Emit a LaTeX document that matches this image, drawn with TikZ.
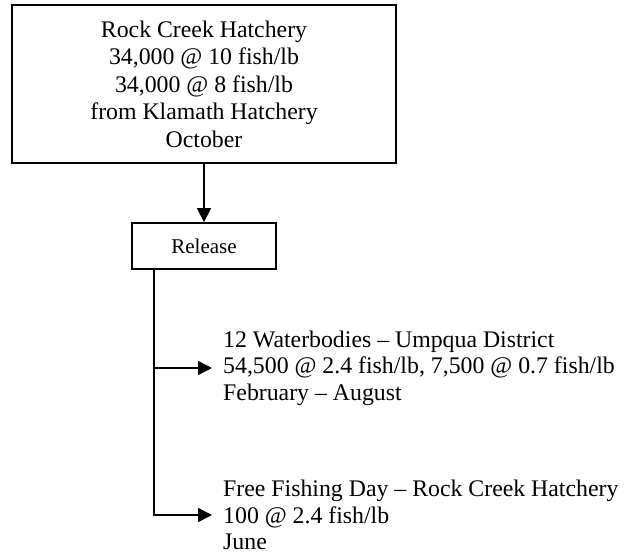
\documentclass[tikz,border=0pt]{standalone}
\usepackage{fontspec}
\setmainfont{Liberation Serif}
\usetikzlibrary{arrows.meta,calc}
\begin{document}
\begin{tikzpicture}[x=1pt,y=-1pt,
  boxA/.style={draw,line width=2pt,minimum width=384pt,minimum height=158pt,inner sep=0pt,align=center,
    font=\fontsize{23.8}{27.5}\selectfont},
  boxB/.style={draw,line width=1.8pt,minimum width=144pt,minimum height=46pt,inner sep=0pt,
    font=\fontsize{21}{24}\selectfont},
  info/.style={anchor=west,inner xsep=11pt,inner ysep=0pt,align=left,
    font=\fontsize{23.8}{26.5}\selectfont},
  conn/.style={line width=1.6pt},
  arr/.style={conn,-{Triangle[length=14pt,width=14pt]}}]
\useasboundingbox (0,0) rectangle (627,556);
\node[boxA] (top) at (204,84) {Rock Creek Hatchery\\34,000 @ 10 fish/lb\\34,000 @ 8 fish/lb\\from Klamath Hatchery\\October};
\node[boxB] (rel) at (204,246) {Release};
\node[info] (g1) at (212,368) {12 Waterbodies – Umpqua District\\54,500 @ 2.4 fish/lb, 7,500 @ 0.7 fish/lb\\February – August};
\node[info] (g2) at (212,515) {Free Fishing Day – Rock Creek Hatchery\\100 @ 2.4 fish/lb\\June};
\coordinate (trunk) at ($(rel.south west)+(23,0)$);
\draw[arr] (top) -- (rel);
\draw[arr] (trunk) |- (g2.west);
\draw[arr] (trunk |- g1.west) -- (g1.west);
\end{tikzpicture}
\end{document}
